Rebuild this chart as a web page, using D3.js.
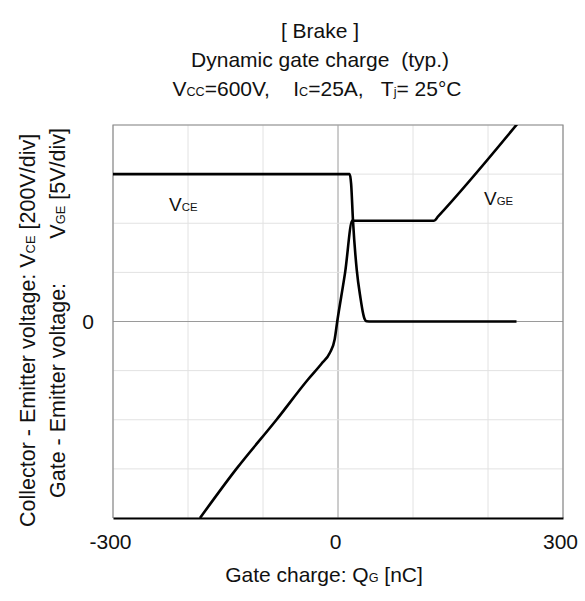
<!DOCTYPE html>
<html>
<head>
<meta charset="utf-8">
<script src="https://cdnjs.cloudflare.com/ajax/libs/d3/7.8.5/d3.min.js"></script>
<style>
  body { margin: 0; background: #fff; }
  text { font-family: "Liberation Sans", Arial, sans-serif; fill: #111; white-space: pre; }
</style>
</head>
<body>
<svg width="585" height="601"></svg>
<script>
// gate charge [nC] and VCE [V]
const qgVce = [-300, 15.6, 17.5, 20, 25, 30, 33, 35.5, 38, 45, 238];
const vce   = [600, 600, 560, 410, 210, 95, 40, 10, 1, 0, 0];

// gate charge [nC] and VGE [V]
const qgVge = [-184, -135.5, -82, -40, -22, -11, -4.4, -1, 9.5, 19.2, 22, 128, 133.5, 240];
const vge   = [-20, -15, -10, -5.9, -4.3, -3.2, -1.8, 0, 5, 10.3, 10.25, 10.25, 10.7, 20.2];

const xTicks = [-300, -200, -100, 0, 100, 200, 300];
const xTickLabels = [-300, 0, 300];
const yTicksCE = [-800, -600, -400, -200, 0, 200, 400, 600, 800];
const yTickLabels = [0];

// plot box
const pLeft = 113, pRight = 563, pTop = 125, pBottom = 518;

const svg = d3.select("svg");

const x = d3.scaleLinear().domain([-300, 300]).range([pLeft, pRight]);
const yCE = d3.scaleLinear().domain([-800, 800]).range([pBottom, pTop]);
const yGE = d3.scaleLinear().domain([-20, 20]).range([pBottom, pTop]);

// grid
const grid = svg.append("g").attr("class", "grid");
grid.selectAll(".gx")
  .data(xTicks)
  .enter().append("line")
  .attr("x1", d => x(d)).attr("x2", d => x(d))
  .attr("y1", pTop).attr("y2", pBottom)
  .attr("stroke", d => d === 0 ? "#9a9a9a" : "#e2e2e2")
  .attr("stroke-width", 1);

grid.selectAll(".gy")
  .data(yTicksCE)
  .enter().append("line")
  .attr("x1", pLeft).attr("x2", pRight)
  .attr("y1", d => yCE(d)).attr("y2", d => yCE(d))
  .attr("stroke", d => d === 0 ? "#9a9a9a" : "#e2e2e2")
  .attr("stroke-width", 1);

// frame - grey on three sides, black bottom
svg.append("path")
  .attr("d", `M${pLeft},${pBottom} V${pTop} H${pRight} V${pBottom}`)
  .attr("fill", "none")
  .attr("stroke", "#8a8a8a")
  .attr("stroke-width", 1.2);

// x axis
const xAxis = d3.axisBottom(x)
  .tickValues(xTickLabels)
  .tickSize(0)
  .tickPadding(16)
  .tickFormat(d => String(d));
const gx = svg.append("g")
  .attr("transform", `translate(0,${pBottom})`)
  .call(xAxis);
gx.select(".domain").attr("stroke", "#000").attr("stroke-width", 2);
gx.selectAll("text")
  .attr("font-size", 21)
  .attr("font-family", "Liberation Sans, Arial, sans-serif")
  .attr("fill", "#111")
  .attr("dx", -3);

// y tick label
svg.selectAll(".ylab")
  .data(yTickLabels)
  .enter().append("text")
  .attr("x", 88)
  .attr("y", d => yCE(d))
  .attr("dy", "0.36em")
  .attr("text-anchor", "middle")
  .attr("font-size", 21)
  .text(d => d);

// curves
svg.append("clipPath").attr("id", "plotclip")
  .append("rect")
  .attr("x", pLeft).attr("y", pTop)
  .attr("width", pRight - pLeft).attr("height", pBottom - pTop);

const lineCE = d3.line()
  .x((d, i) => x(qgVce[i]))
  .y((d, i) => yCE(vce[i]))
  .curve(d3.curveMonotoneX);

const lineGE = d3.line()
  .x((d, i) => x(qgVge[i]))
  .y((d, i) => yGE(vge[i]))
  .curve(d3.curveMonotoneX);

const curves = svg.append("g").attr("clip-path", "url(#plotclip)");
curves.append("path")
  .attr("d", lineCE(vce))
  .attr("fill", "none")
  .attr("stroke", "#000")
  .attr("stroke-width", 2.6);
curves.append("path")
  .attr("d", lineGE(vge))
  .attr("fill", "none")
  .attr("stroke", "#000")
  .attr("stroke-width", 2.6);

// text with subscripts
function subText(sel, parts, size) {
  parts.forEach(p => {
    sel.append("tspan")
      .attr("font-size", p[1] ? size * 0.6 : size)
      .text(p[0]);
  });
  return sel;
}

// curve labels
subText(svg.append("text").attr("x", 169).attr("y", 211), [["V"], ["CE", 1]], 19);
subText(svg.append("text").attr("x", 484).attr("y", 205), [["V"], ["GE", 1]], 19);

// titles
svg.append("text").attr("x", 320).attr("y", 38).attr("text-anchor", "middle")
  .attr("font-size", 21).text("[ Brake ]");
svg.append("text").attr("x", 320).attr("y", 67).attr("text-anchor", "middle")
  .attr("font-size", 21).text("Dynamic gate charge  (typ.)");
subText(svg.append("text").attr("x", 317).attr("y", 96).attr("text-anchor", "middle"),
  [["V"], ["CC", 1], ["=600V,    I"], ["C", 1], ["=25A,   T"], ["j", 1], ["= 25°C"]], 21);

// x label
subText(svg.append("text").attr("x", 324).attr("y", 582).attr("text-anchor", "middle"),
  [["Gate charge: Q"], ["G", 1], [" [nC]"]], 21);

// y labels (rotated)
subText(svg.append("text")
    .attr("transform", "translate(35,527) rotate(-90)")
    .attr("text-anchor", "start"),
  [["Collector - Emitter voltage: V"], ["CE", 1], [" [200V/div]"]], 21.5);
svg.append("text")
  .attr("transform", "translate(65,498) rotate(-90)")
  .attr("text-anchor", "start")
  .attr("font-size", 21.5)
  .text("Gate - Emitter voltage:");
subText(svg.append("text")
    .attr("transform", "translate(65,128) rotate(-90)")
    .attr("text-anchor", "end"),
  [["V"], ["GE", 1], [" [5V/div]"]], 21.5);
</script>
</body>
</html>
